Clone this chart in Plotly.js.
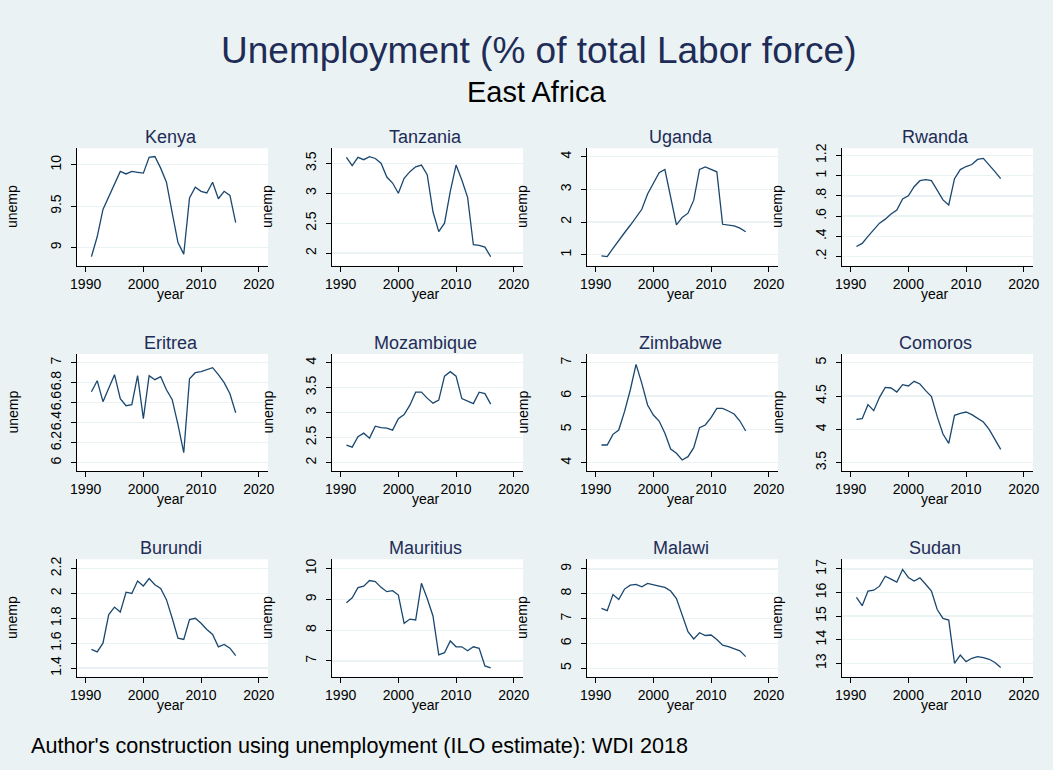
<!DOCTYPE html>
<html>
<head>
<meta charset="utf-8">
<script src="https://cdn.plot.ly/plotly-3.0.1.min.js"></script>
<style>html,body{margin:0;padding:0;background:#EAF2F3;}#chart{width:1053px;height:770px;}</style>
</head>
<body>
<div id="chart"></div>
<script>
const years = [1991,1992,1993,1994,1995,1996,1997,1998,1999,2000,2001,2002,2003,2004,2005,2006,2007,2008,2009,2010,2011,2012,2013,2014,2015,2016];
const countries = ["Kenya","Tanzania","Uganda","Rwanda","Eritrea","Mozambique","Zimbabwe","Comoros","Burundi","Mauritius","Malawi","Sudan"];

const kenya      = [8.89,9.13,9.46,9.62,9.78,9.92,9.89,9.92,9.91,9.90,10.09,10.10,9.96,9.79,9.42,9.06,8.92,9.60,9.73,9.68,9.66,9.79,9.59,9.68,9.63,9.30];
const tanzania   = [3.60,3.46,3.60,3.56,3.61,3.58,3.50,3.27,3.17,3.00,3.25,3.36,3.44,3.47,3.31,2.69,2.36,2.50,3.03,3.47,3.22,2.93,2.14,2.13,2.10,1.94];
const uganda     = [0.96,0.94,1.19,1.45,1.67,1.90,2.14,2.39,2.86,3.18,3.51,3.61,2.72,1.91,2.14,2.27,2.67,3.61,3.69,3.61,3.54,1.93,1.91,1.88,1.81,1.70];
const rwanda     = [0.30,0.33,0.40,0.47,0.53,0.57,0.62,0.66,0.77,0.80,0.89,0.95,0.96,0.95,0.86,0.76,0.71,0.97,1.06,1.09,1.11,1.16,1.17,1.11,1.04,0.97];
const eritrea    = [6.71,6.82,6.61,6.74,6.88,6.64,6.57,6.58,6.87,6.44,6.87,6.83,6.86,6.73,6.63,6.38,6.10,6.84,6.90,6.91,6.93,6.95,6.88,6.80,6.69,6.50];
const mozambique = [2.35,2.31,2.52,2.59,2.49,2.73,2.70,2.69,2.65,2.88,2.96,3.15,3.41,3.41,3.29,3.19,3.25,3.73,3.82,3.73,3.28,3.23,3.18,3.41,3.38,3.17];
const zimbabwe   = [4.53,4.53,4.85,4.98,5.53,6.18,6.95,6.38,5.73,5.43,5.25,4.88,4.41,4.28,4.08,4.18,4.45,5.05,5.13,5.35,5.63,5.63,5.55,5.46,5.25,4.95];
const comoros    = [4.15,4.16,4.37,4.28,4.48,4.63,4.62,4.56,4.67,4.65,4.72,4.68,4.58,4.49,4.19,3.93,3.79,4.21,4.24,4.26,4.22,4.17,4.11,4.00,3.86,3.70];
const burundi    = [1.55,1.53,1.60,1.83,1.89,1.85,2.01,2.00,2.10,2.06,2.12,2.07,2.04,1.95,1.80,1.64,1.63,1.79,1.80,1.76,1.71,1.67,1.57,1.59,1.56,1.50];
const mauritius  = [8.89,9.05,9.38,9.43,9.61,9.58,9.39,9.25,9.28,9.14,8.22,8.36,8.33,9.52,9.03,8.46,7.20,7.27,7.65,7.46,7.46,7.33,7.46,7.41,6.84,6.78];
const malawi     = [7.41,7.32,7.97,7.77,8.19,8.35,8.38,8.28,8.42,8.35,8.31,8.26,8.11,7.81,7.15,6.47,6.18,6.43,6.32,6.34,6.16,5.93,5.87,5.77,5.70,5.47];
const sudan      = [15.79,15.44,16.06,16.10,16.27,16.69,16.57,16.44,16.98,16.64,16.49,16.62,16.35,16.06,15.28,14.90,14.83,13.00,13.35,13.07,13.21,13.28,13.24,13.17,13.03,12.82];

const xTicks = [1990,2000,2010,2020];
const yTicks = [
  [9,9.5,10],
  [2,2.5,3,3.5],
  [1,2,3,4],
  [0.2,0.4,0.6,0.8,1,1.2],
  [6,6.2,6.4,6.6,6.8,7],
  [2,2.5,3,3.5,4],
  [4,5,6,7],
  [3.5,4,4.5,5],
  [1.4,1.6,1.8,2,2.2],
  [7,8,9,10],
  [5,6,7,8,9],
  [13,14,15,16,17]
];
const yTickText = [
  ["9","9.5","10"],
  ["2","2.5","3","3.5"],
  ["1","2","3","4"],
  [".2",".4",".6",".8","1","1.2"],
  ["6","6.2","6.4","6.6","6.8","7"],
  ["2","2.5","3","3.5","4"],
  ["4","5","6","7"],
  ["3.5","4","4.5","5"],
  ["1.4","1.6","1.8","2","2.2"],
  ["7","8","9","10"],
  ["5","6","7","8","9"],
  ["13","14","15","16","17"]
];

const series = [kenya,tanzania,uganda,rwanda,eritrea,mozambique,zimbabwe,comoros,burundi,mauritius,malawi,sudan];

// layout geometry (pixels)
const W = 1053, H = 770;
const colLeft = [77, 332, 587, 842];
const plotW = 191;
const rowTop = [148.3, 354, 559.3];
const rowBot = [265.7, 471, 676.7];
const yRanges = [
  [8.78,10.20],[1.79,3.75],[0.66,4.26],[0.11,1.27],
  [5.917,7.087],[1.833,4.173],[3.75,7.26],[3.375,5.13],
  [1.33,2.275],[6.49,10.30],[4.66,9.39],[12.43,17.41]
];

const navy = "rgb(26,71,111)";
const bg = "#EAF2F3";
const titleCol = "#1e2c57";
const font = "Liberation Sans, Arial, sans-serif";

const traces = [];
const layout = {
  width: W, height: H,
  paper_bgcolor: bg,
  plot_bgcolor: "#ffffff",
  margin: {l:0,r:0,t:0,b:0},
  showlegend: false,
  font: {family: font, color: "#000"},
  annotations: [],
  shapes: []
};

series.forEach((vals, i) => {
  const r = Math.floor(i/4), c = i%4;
  const n = i+1;
  const xa = "x" + (n===1 ? "" : n), ya = "y" + (n===1 ? "" : n);
  traces.push({x: years, y: vals, type: "scatter", mode: "lines",
    line: {color: navy, width: 1.3}, xaxis: xa, yaxis: ya, hoverinfo: "skip"});
  const x0 = colLeft[c]/W, x1 = (colLeft[c]+plotW)/W;
  const y0 = 1 - rowBot[r]/H, y1 = 1 - rowTop[r]/H;
  layout["xaxis" + (n===1 ? "" : n)] = {
    domain: [x0, x1], anchor: ya, range: [1988.5, 2021.6],
    tickvals: xTicks, ticktext: xTicks.map(String),
    ticks: "outside", ticklen: 5, tickcolor: "#000", tickwidth: 1,
    showline: true, linecolor: "#000", linewidth: 1,
    showgrid: false, zeroline: false,
    tickfont: {size: 14, family: font, color: "#000"}
  };
  layout["yaxis" + (n===1 ? "" : n)] = {
    domain: [y0, y1], anchor: xa, range: yRanges[i],
    tickvals: yTicks[i], ticktext: yTickText[i], tickangle: -90,
    ticks: "outside", ticklen: 5, tickcolor: "#000", tickwidth: 1,
    ticklabelstandoff: 4,
    showline: true, linecolor: "#000", linewidth: 1,
    showgrid: true, gridcolor: bg, gridwidth: 1.3, zeroline: false,
    tickfont: {size: 14, family: font, color: "#000"}
  };
  const cx = (colLeft[c] + plotW/2)/W;
  layout.annotations.push({text: countries[i], xref: "paper", yref: "paper",
    x: cx - 2/W, y: 1 - (rowTop[r]-11)/H, xanchor: "center", yanchor: "middle",
    showarrow: false, font: {size: 18, family: font, color: titleCol}});
  layout.annotations.push({text: "year", xref: "paper", yref: "paper",
    x: cx - 2/W, y: 1 - (rowBot[r]+28)/H, xanchor: "center", yanchor: "middle",
    showarrow: false, font: {size: 14, family: font, color: "#000"}});
  layout.annotations.push({text: "unemp", xref: "paper", yref: "paper",
    x: (colLeft[c]-65)/W, y: 1 - ((rowTop[r]+rowBot[r])/2)/H, xanchor: "center", yanchor: "middle",
    textangle: -90, showarrow: false, font: {size: 14, family: font, color: "#000"}});
});

layout.annotations.push({text: "Unemployment (% of total Labor force)", xref: "paper", yref: "paper",
  x: 538/W, y: 1 - 50/H, xanchor: "center", yanchor: "middle", showarrow: false,
  font: {size: 37, family: font, color: titleCol}});
layout.annotations.push({text: "East Africa", xref: "paper", yref: "paper",
  x: 536/W, y: 1 - 92/H, xanchor: "center", yanchor: "middle", showarrow: false,
  font: {size: 29, family: font, color: "#000"}});
layout.annotations.push({text: "Author's construction using unemployment (ILO estimate): WDI 2018", xref: "paper", yref: "paper",
  x: 29/W, y: 1 - 745/H, xanchor: "left", yanchor: "middle", showarrow: false,
  font: {size: 21.6, family: font, color: "#000"}});

Plotly.newPlot("chart", traces, layout, {displayModeBar: false, staticPlot: true});
</script>
</body>
</html>
